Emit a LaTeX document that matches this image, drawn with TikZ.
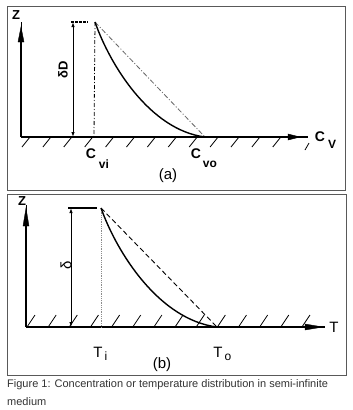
\documentclass[tikz,border=0pt]{standalone}
\usepackage{fontspec}
\setmainfont{Liberation Sans}
\usetikzlibrary{arrows.meta}
\begin{document}
\begin{tikzpicture}[x=1pt,y=-1pt,
  frame/.style={draw=black!65,line width=1pt},
  axis/.style={line width=1.6pt},
  hatch/.style={line width=0.8pt},
  curve/.style={line width=1.4pt},
  head/.style={fill=black,draw=black,line width=0.4pt,line join=miter},
  dim/.style={line width=0.9pt,{Latex[length=5pt,width=3.5pt]}-{Latex[length=5pt,width=3.5pt]}},
  bl/.style={inner sep=0pt,font=\fontsize{14}{14}\selectfont\bfseries},
  bs/.style={inner sep=0pt,font=\fontsize{12}{12}\selectfont\bfseries},
  rl/.style={inner sep=0pt,font=\fontsize{15}{15}\selectfont},
  rs/.style={inner sep=0pt,font=\fontsize{12}{12}\selectfont},
  captiontext/.style={inner sep=0pt,anchor=west,text=black!80,font=\fontsize{11}{11}\selectfont}]
\useasboundingbox (0,0) rectangle (353,410);
\fill[white] (0,0) rectangle (353,410);
% ---------- frames
\draw[frame] (7,6) rectangle (345.5,190.5);
\draw[frame] (7,194) rectangle (346,375);
% ---------- panel (a)
\coordinate (Oa) at (21,137);
\coordinate (Za) at (21,22);
\coordinate (Xa) at (308,137);
\coordinate (Ta) at (95,22);
\coordinate (Ea) at (205,137);
\coordinate (Da) at (73,22);
\coordinate (DaB) at (73,137);
\coordinate (Va) at (94,137);
\foreach \i in {0,...,12} {\draw[hatch] (30+20.9*\i,137) -- ++(-8,10);}
\draw[hatch] (309,143) -- (305,150);
\draw[axis] (Oa) -- (Xa);
\fill[head] (300,137) -- (288,134) -- (288,140) -- cycle;
\draw[axis] (Oa) -- (21,40);
\draw[line width=1pt] (21,40) -- (Za);
\fill[head] (21,27) -- (18,42) -- (24,42) -- cycle;
\draw[dim] (Da) -- (DaB);
\draw[line width=1.6pt,dash pattern=on 3pt off 1pt] (71,22) -- (88,22);
\draw[line width=0.8pt,dash pattern=on 4pt off 2pt on 1pt off 2pt] (Ta) -- (Va);
\draw[black!60,line width=0.8pt,dash pattern=on 5pt off 2pt on 1pt off 2pt] (Ta) -- (Ea);
\draw[curve] (Ta) .. controls (110,65) and (150,130) .. (Ea);
\node[bl,font=\fontsize{13}{13}\selectfont\bfseries] (za) at (16,15) {Z};
\node[bl,rotate=90,font=\fontsize{13}{13}\selectfont\bfseries] (dla) at (63,70) {δD};
\node[bl] (cv) at (320,137) {C};
\node[bs] (cvs) at (332,144) {V};
\node[bl] (cvi) at (91,154) {C};
\node[bs] (cvis) at (104,164) {vi};
\node[bl] (cvo) at (196,154) {C};
\node[bs] (cvos) at (210,164) {vo};
\node[rl] (la) at (168,176) {(a)};
% ---------- panel (b)
\coordinate (Ob) at (26,327);
\coordinate (Zb) at (26,205);
\coordinate (Xb) at (325,327);
\coordinate (Tb) at (101,208);
\coordinate (Eb) at (217,327);
\coordinate (Db) at (71,208);
\coordinate (DbB) at (71,327);
\coordinate (Vb) at (101,327);
\foreach \i in {0,...,13} {\draw[hatch] (27+21.15*\i,327) -- ++(8,-12);}
\draw[axis] (Ob) -- (Xb);
\fill[head] (323,327) -- (305,324) -- (305,330) -- cycle;
\draw[axis] (Ob) -- (26,224);
\draw[line width=1pt] (26,224) -- (Zb);
\fill[head] (26,208) -- (23,226) -- (29,226) -- cycle;
\draw[dim] (Db) -- (DbB);
\draw[line width=1.2pt] (68,208) -- (97,208);
\draw[black!45,line width=0.8pt,densely dotted] (Tb) -- (Vb);
\draw[line width=0.9pt,dash pattern=on 5pt off 3pt] (Tb) -- (Eb);
\draw[curve] (Tb) .. controls (116.8,252.5) and (159,319.7) .. (Eb);
\node[bl,font=\fontsize{13}{13}\selectfont\bfseries] (zb) at (22,201) {Z};
\node[rl,rotate=90] (dlb) at (66,265) {δ};
\node[rl] (tt) at (334,327) {T};
\node[rl] (ti) at (98,352) {T};
\node[rs] (tis) at (106,356) {i};
\node[rl] (to) at (218,352) {T};
\node[rs] (tos) at (228,357) {o};
\node[rl] (lb) at (162,365) {(b)};
% ---------- caption
\node[captiontext] (c1) at (7,385) {Figure 1: Concentration or temperature distribution in semi-infinite};
\node[captiontext] (c2) at (7,402) {medium};
\end{tikzpicture}
\end{document}
